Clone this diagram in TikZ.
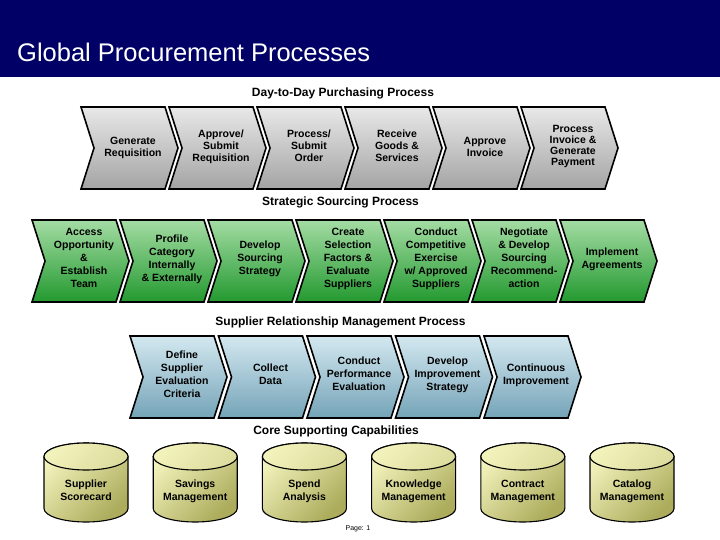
\documentclass[tikz,border=0pt]{standalone}
\usepackage{fontspec}
\setmainfont{Liberation Sans}
\definecolor{navy}{HTML}{000066}
\definecolor{greyL}{HTML}{E8E8E8}
\definecolor{greyD}{HTML}{A4A4A4}
\definecolor{greenL}{HTML}{A4DCA4}
\definecolor{greenD}{HTML}{23992F}
\definecolor{blueL}{HTML}{D4E8F0}
\definecolor{blueD}{HTML}{74A4B8}
\definecolor{yelL}{HTML}{F2F2BC}
\definecolor{yelD}{HTML}{ACAC5C}
\tikzset{
  chevbase/.style={draw=black, line width=1.6pt, line join=miter, shading angle=45},
  greychev/.style={chevbase, top color=greyL, bottom color=greyD},
  greenchev/.style={chevbase, top color=greenL, bottom color=greenD},
  bluechev/.style={chevbase, top color=blueL, bottom color=blueD},
  struts/.style={execute at begin node=\strut, execute at end node=\strut},
  chevtext/.style={struts, align=center, inner sep=0pt, font=\bfseries\fontsize{10.5}{12}\selectfont},
  chevtextL/.style={chevtext, yshift=-2pt},
  chevtextT/.style={struts, align=center, inner sep=0pt, font=\bfseries\fontsize{10.5}{11}\selectfont},
  chevtextB/.style={struts, align=center, inner sep=0pt, font=\bfseries\fontsize{10.5}{13}\selectfont},
  seclabel/.style={inner sep=0pt, font=\bfseries\fontsize{12}{14}\selectfont},
  cylbody/.style={draw=black, line width=1.1pt, top color=yelL, bottom color=yelD, shading angle=45},
  cyltop/.style={draw=black, line width=1.1pt, top color=yelL, bottom color=yelL!70!yelD, shading angle=45},
}
% #1 name, #2 left x, #3 top y, #4 style, #5 text style, #6 text
\newcommand\mychev[6]{%
  \path[#4] (#2,#3) -- ++(84,0) -- ++(13,41) -- ++(-13,41) -- ++(-84,0) -- ++(13,-41) -- cycle;
  \node[#5] (#1) at (#2+52,#3+40) {#6};
}
% #1 name, #2 centre x, #3 text
\newcommand\mycyl[3]{%
  \path[cylbody] (#2-42,456.5) -- (#2-42,508.5)
     arc[start angle=180, end angle=360, x radius=42pt, y radius=13.5pt]
     -- (#2+42,456.5)
     arc[start angle=0, end angle=180, x radius=42pt, y radius=13.5pt] -- cycle;
  \path[cyltop] (#2,456.5) ellipse[x radius=42pt, y radius=13.5pt];
  \node[chevtextB] (#1) at (#2,492.5) {#3};
}
\begin{document}
\begin{tikzpicture}[x=1pt,y=-1pt]
\useasboundingbox (0,0) rectangle (720,540);
\fill[white] (0,0) rectangle (720,540);
% header
\fill[navy] (0,0) rectangle (720,77);
\node[anchor=base west, inner sep=0pt, text=white, font=\fontsize{25.5}{30}\selectfont] (title) at (17,62) {Global Procurement Processes};

% Day-to-Day
\node[seclabel] (l1) at (343,93) {Day-to-Day Purchasing Process};
\mychev{a1}{81}{107}{greychev}{chevtextL}{Generate\\Requisition}
\mychev{a2}{169}{107}{greychev}{chevtext}{Approve/\\Submit\\Requisition}
\mychev{a3}{257}{107}{greychev}{chevtext}{Process/\\Submit\\Order}
\mychev{a4}{345}{107}{greychev}{chevtext}{Receive\\Goods \&\\Services}
\mychev{a5}{433}{107}{greychev}{chevtextL}{Approve\\Invoice}
\mychev{a6}{521}{107}{greychev}{chevtextT}{Process\\Invoice \&\\Generate\\Payment}

% Strategic sourcing
\node[seclabel] (l2) at (340.5,202) {Strategic Sourcing Process};
\mychev{b1}{32}{220}{greenchev}{chevtextB}{Access\\Opportunity\\\&\\Establish\\Team}
\mychev{b2}{120}{220}{greenchev}{chevtextB}{Profile\\Category\\Internally\\\& Externally}
\mychev{b3}{208}{220}{greenchev}{chevtextB}{Develop\\Sourcing\\Strategy}
\mychev{b4}{296}{220}{greenchev}{chevtextB}{Create\\Selection\\Factors \&\\Evaluate\\Suppliers}
\mychev{b5}{384}{220}{greenchev}{chevtextB}{Conduct\\Competitive\\Exercise\\w/ Approved\\Suppliers}
\mychev{b6}{472}{220}{greenchev}{chevtextB}{Negotiate\\\& Develop\\Sourcing\\Recommend-\\action}
\mychev{b7}{560}{220}{greenchev}{chevtextB}{Implement\\Agreements}

% SRM
\node[seclabel] (l3) at (340.5,322) {Supplier Relationship Management Process};
\mychev{c1}{130}{336}{bluechev}{chevtextB}{Define\\Supplier\\Evaluation\\Criteria}
\mychev{c2}{218.5}{336}{bluechev}{chevtextB}{Collect\\Data}
\mychev{c3}{307}{336}{bluechev}{chevtextB}{Conduct\\Performance\\Evaluation}
\mychev{c4}{395.5}{336}{bluechev}{chevtextB}{Develop\\Improvement\\Strategy}
\mychev{c5}{484}{336}{bluechev}{chevtextB}{Continuous\\Improvement}

% Core capabilities
\node[seclabel] (l4) at (336,431) {Core Supporting Capabilities};
\mycyl{d1}{86}{Supplier\\Scorecard}
\mycyl{d2}{195.2}{Savings\\Management}
\mycyl{d3}{304.4}{Spend\\Analysis}
\mycyl{d4}{413.6}{Knowledge\\Management}
\mycyl{d5}{522.8}{Contract\\Management}
\mycyl{d6}{632}{Catalog\\Management}

\node[inner sep=0pt, font=\fontsize{7}{8}\selectfont] (page) at (358,528.5) {Page: 1};
\end{tikzpicture}
\end{document}
